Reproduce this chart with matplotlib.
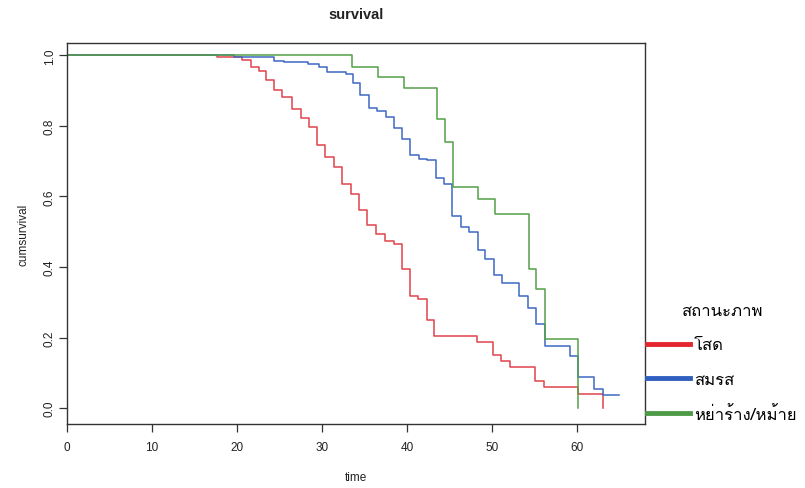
import matplotlib
matplotlib.use("Agg")
import matplotlib.pyplot as plt
from matplotlib.lines import Line2D
from matplotlib import font_manager
from matplotlib.ft2font import FT2Font

# ---- data ----
red_t = [0, 17.7, 20.6, 21.6, 22.6, 23.4, 24.3, 25.3, 26.5, 27.5, 28.5, 29.4, 30.4, 31.4, 32.4, 33.4,
         34.3, 35.3, 36.3, 37.4, 38.5, 39.4, 40.4, 41.3, 42.3, 43.2, 48.2, 50.1, 51.1, 52.1, 55.1,
         56.1, 60.1, 63.0]
red_s = [1.0, 0.995, 0.987, 0.968, 0.955, 0.930, 0.902, 0.883, 0.849, 0.821, 0.797, 0.745, 0.712,
         0.684, 0.636, 0.608, 0.561, 0.518, 0.494, 0.475, 0.466, 0.393, 0.319, 0.310, 0.251, 0.205,
         0.187, 0.151, 0.133, 0.116, 0.078, 0.061, 0.040, 0.0]

blue_t = [0, 19.6, 24.3, 25.5, 28.4, 29.6, 30.6, 32.8, 33.6, 34.5, 35.5, 36.5, 37.5, 38.5, 39.4,
          40.4, 41.4, 42.4, 43.4, 44.3, 45.3, 46.3, 47.3, 48.3, 49.2, 50.2, 51.2, 53.2, 54.2, 55.2,
          56.2, 59.2, 60.1, 62.0, 63.0, 64.9]
blue_s = [1.0, 0.994, 0.985, 0.982, 0.975, 0.968, 0.954, 0.947, 0.923, 0.887, 0.852, 0.842, 0.824,
          0.794, 0.764, 0.718, 0.707, 0.702, 0.653, 0.634, 0.544, 0.513, 0.499, 0.447, 0.423, 0.376,
          0.355, 0.319, 0.284, 0.239, 0.177, 0.147, 0.087, 0.054, 0.038, 0.038]

green_t = [0, 33.5, 36.6, 39.6, 43.5, 44.5, 45.4, 48.4, 50.4, 54.3, 55.2, 56.2, 60.1]
green_s = [1.0, 0.968, 0.938, 0.908, 0.819, 0.753, 0.627, 0.594, 0.551, 0.395, 0.338, 0.196, 0.0]

labels = ["โสด", "สมรส", "หย่าร้าง/หม้าย"]
legend_title = "สถานะภาพ"
x_ticks = [0, 10, 20, 30, 40, 50, 60]
y_ticks = [0.0, 0.2, 0.4, 0.6, 0.8, 1.0]

# ---- fonts ----
thai_font = None
for f in font_manager.fontManager.ttflist:
    try:
        if ord("ส") in FT2Font(f.fname).get_charmap():
            thai_font = f.name
            break
    except Exception:
        pass
thai_family = [thai_font, "DejaVu Sans"] if thai_font else ["DejaVu Sans"]
base = ["Liberation Sans", "DejaVu Sans"]
plt.rcParams["font.family"] = base

colors = ["#e2434c", "#3d68c2", "#52a047"]
legend_colors = ["#e3262f", "#2f5fbf", "#4f9a48"]

fig = plt.figure(figsize=(8.05, 4.89), dpi=100)
ax = fig.add_axes([67 / 805, 1 - 425 / 489, (645 - 67) / 805, (425 - 44) / 489])

for t, s, c in zip([red_t, blue_t, green_t], [red_s, blue_s, green_s], colors):
    ax.step(t, s, where="post", color=c, lw=1.1)

ax.set_xlim(0, 68)
ax.set_ylim(-0.045, 1.035)
ax.set_xticks(x_ticks)
ax.set_xticklabels([str(v) for v in x_ticks])
ax.set_yticks(y_ticks)
ax.set_yticklabels([f"{v:.1f}" for v in y_ticks], rotation=90, va="center")
ax.tick_params(axis="both", labelsize=8.5, length=6, width=0.9, color="#333333", labelcolor="#222222")
ax.tick_params(axis="x", pad=6)
ax.tick_params(axis="y", pad=2)
for sp in ax.spines.values():
    sp.set_color("#333333")
    sp.set_linewidth(1.0)

ax.set_xlabel("time", fontsize=8.5, labelpad=13, color="#222222")
ax.set_ylabel("cumsurvival", fontsize=8.5, labelpad=10, color="#222222")
ax.set_title("survival", fontsize=10.5, fontweight="bold", pad=18, color="#222222")

handles = [Line2D([0], [0], color=c, lw=3.5) for c in legend_colors]
leg = ax.legend(handles, labels, title=legend_title, loc="upper left",
                bbox_to_anchor=(647 / 805, 1 - 304 / 489), bbox_transform=fig.transFigure,
                frameon=False, borderpad=0, borderaxespad=0, handlelength=2.6,
                handletextpad=0.2, labelspacing=1.1,
                prop={"family": thai_family, "size": 12},
                title_fontproperties={"family": thai_family, "size": 12})
leg._legend_box.align = "center"

fig.savefig("out.png", dpi=100)
